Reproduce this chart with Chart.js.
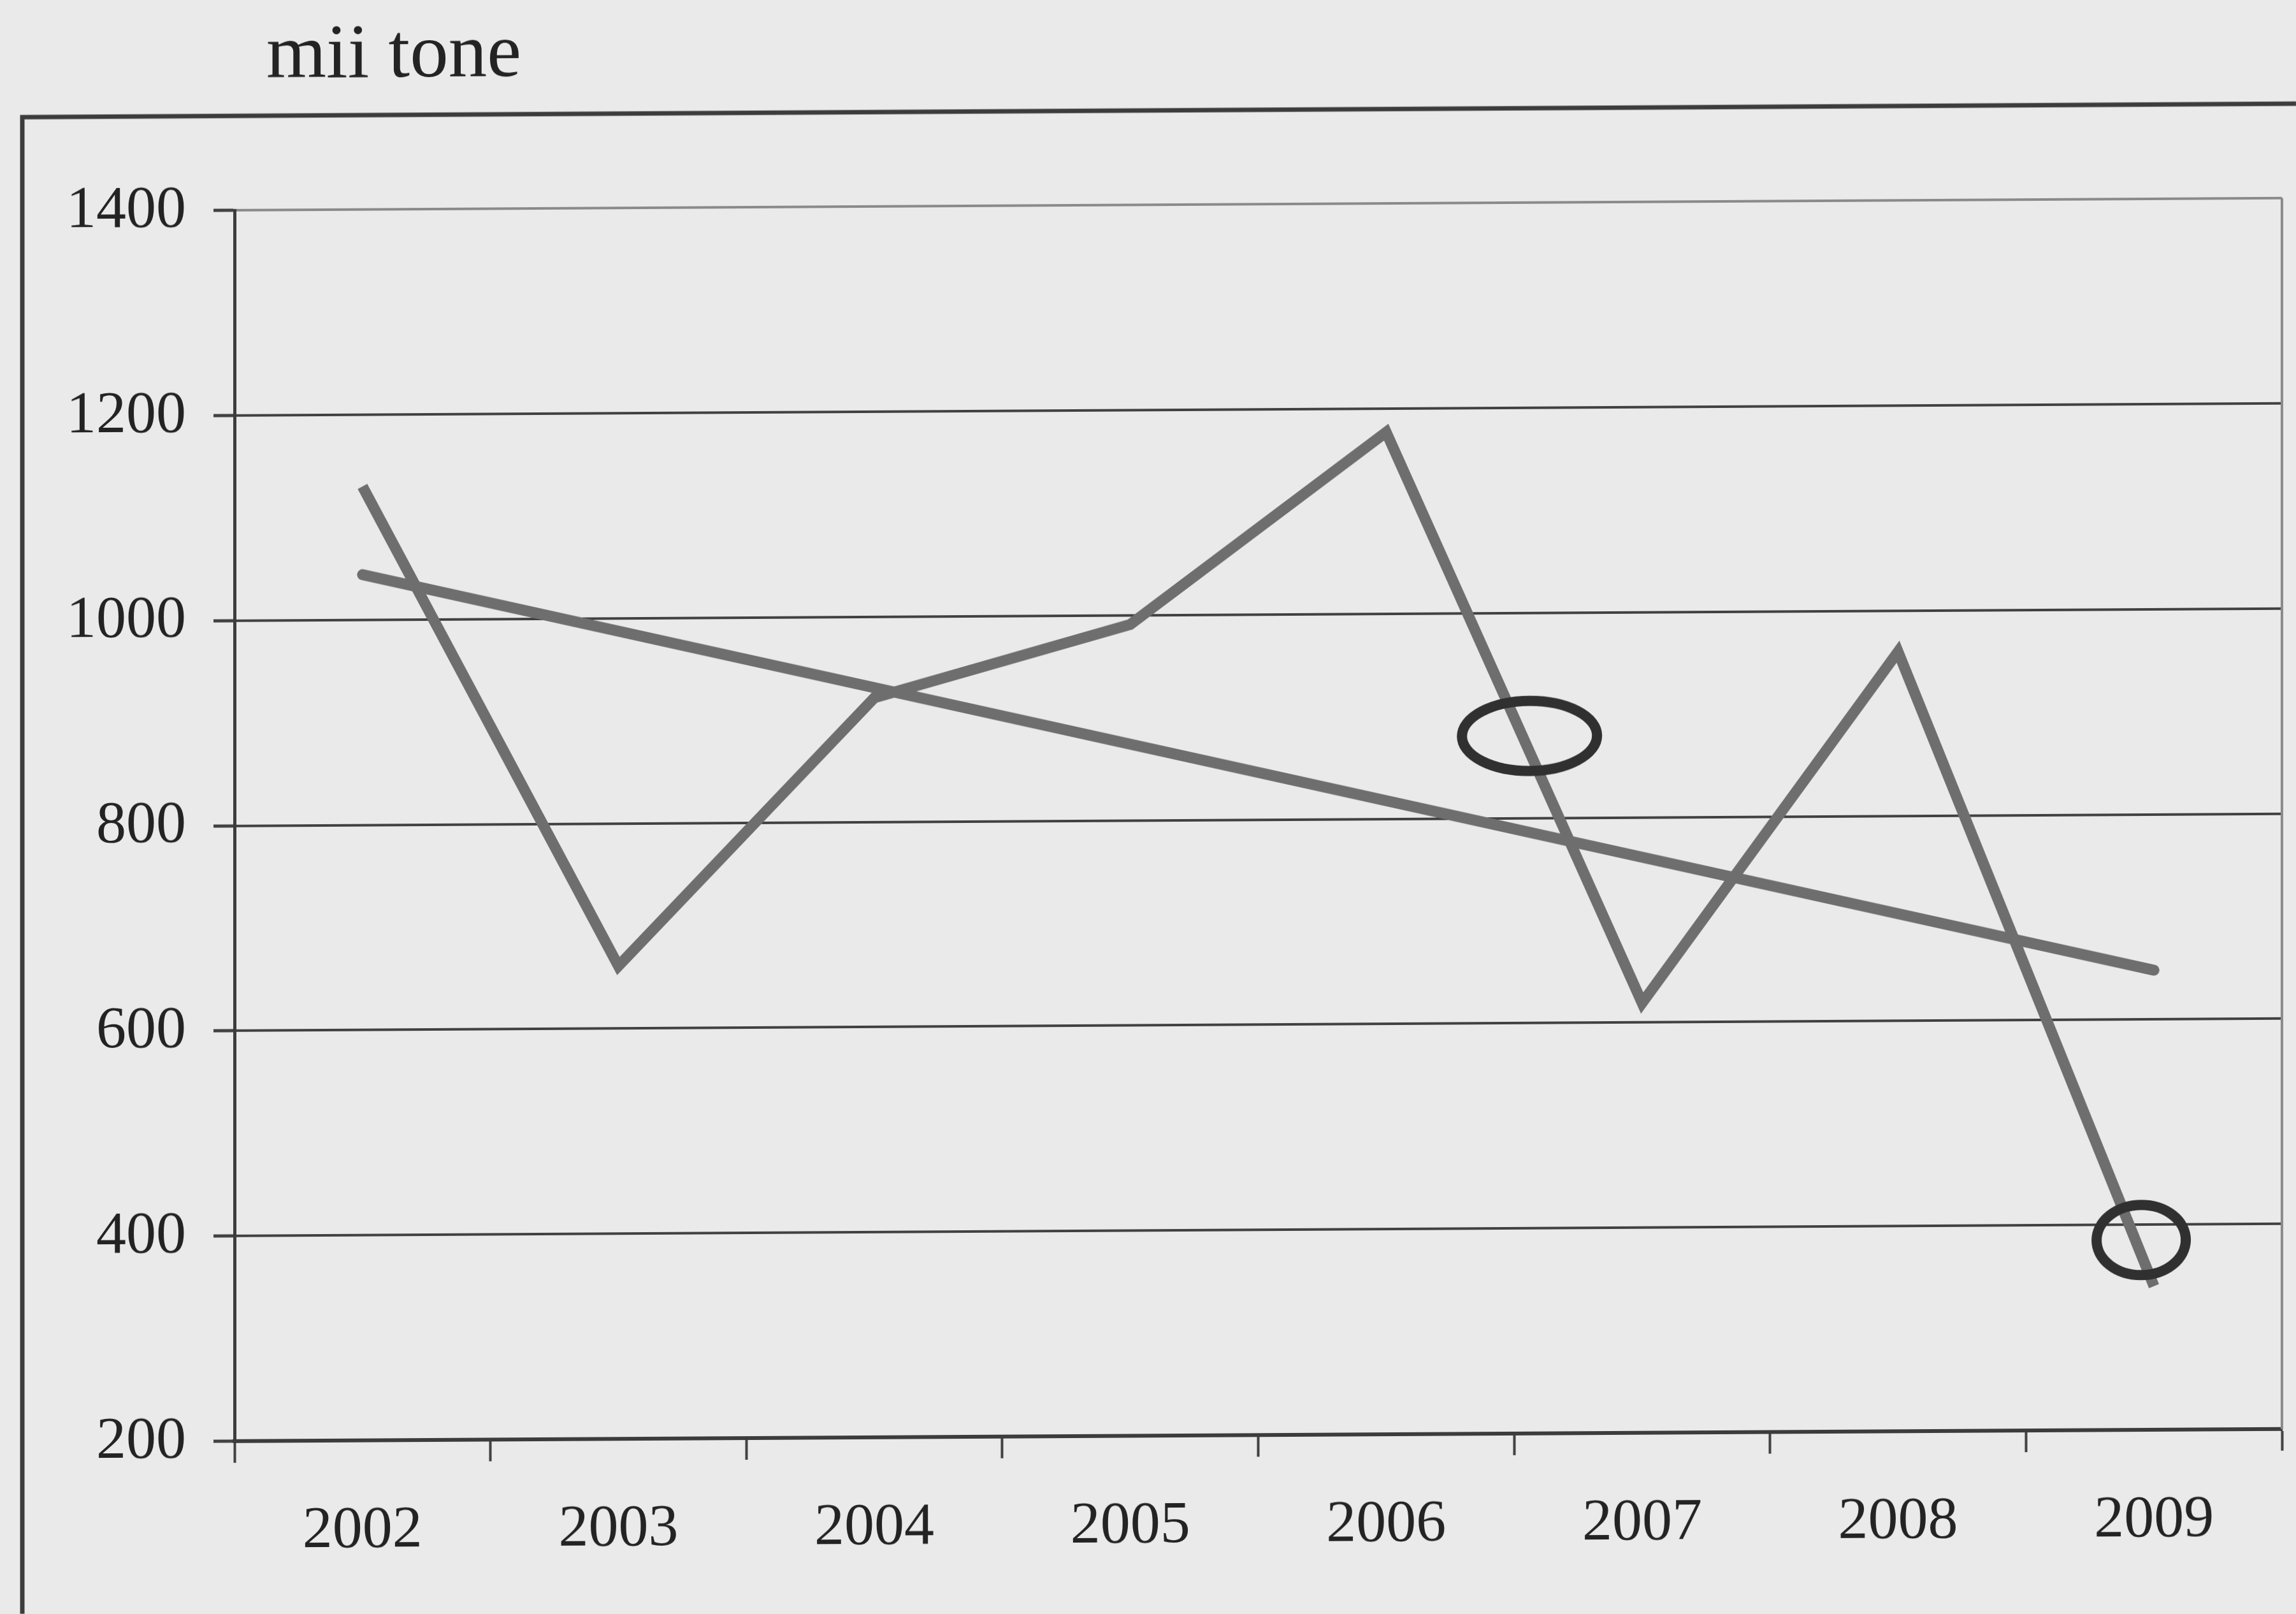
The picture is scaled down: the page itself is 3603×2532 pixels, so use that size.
<!DOCTYPE html>
<html>
<head>
<meta charset="utf-8">
<script src="https://cdn.jsdelivr.net/npm/chart.js@4.4.1/dist/chart.umd.min.js"></script>
<style>
  html, body { margin: 0; padding: 0; background: #eaeaea; overflow: hidden; }
  #wrap {
    position: absolute; left: 0; top: 0; width: 3603px; height: 2532px;
    transform: skewY(-0.34deg); transform-origin: 0 0;
  }
  canvas { display: block; }
</style>
</head>
<body>
<div id="wrap"><canvas id="c" width="3603" height="2532" style="width:3603px;height:2532px"></canvas></div>
<script>
// Annual production, thousand tonnes
const years = ['2002', '2003', '2004', '2005', '2006', '2007', '2008', '2009'];
const production = [1130, 661, 921, 991, 1177, 619, 960, 340];
// Linear trend: start and end values only, drawn as a straight segment
const trend = [1044, null, null, null, null, null, null, 648];
const yTicks = [200, 400, 600, 800, 1000, 1200, 1400];
const unitLabel = 'mii tone';
// Hand-drawn rings: position on the category axis (index) and value
const ringAt = [4.56, 6.95];
const ringValue = [880, 385];

const FONT = '"Liberation Serif", "Times New Roman", serif';
const INK = '#232323';
const GRID = '#414141';
const FAINT = '#8a8a8a';
const LINE = '#6e6e6e';

const pageDecor = {
  id: 'pageDecor',
  beforeDraw(chart) {
    const ctx = chart.ctx;
    ctx.save();
    // outer frame (its right and bottom sides run past the page)
    ctx.strokeStyle = '#3c3c3c';
    ctx.lineWidth = 7;
    ctx.strokeRect(35, 184, 3700, 2600);
    // unit label above the value axis
    ctx.fillStyle = INK;
    ctx.font = '121px ' + FONT;
    ctx.textBaseline = 'alphabetic';
    ctx.textAlign = 'left';
    ctx.fillText(unitLabel, 418, 124);
    ctx.restore();
  },
  beforeDatasetsDraw(chart) {
    const { ctx, chartArea } = chart;
    ctx.save();
    ctx.strokeStyle = FAINT;
    ctx.lineWidth = 4;
    ctx.beginPath();
    ctx.moveTo(chartArea.right, chartArea.top);
    ctx.lineTo(chartArea.right, chartArea.bottom);
    ctx.stroke();
    ctx.restore();
  },
  afterDatasetsDraw(chart) {
    const { ctx, scales } = chart;
    const sizes = [[106, 55], [70, 55]];
    ctx.save();
    ctx.strokeStyle = '#303030';
    ctx.lineWidth = 16;
    ringAt.forEach((at, i) => {
      const cx = scales.x.getPixelForValue(at);
      const cy = scales.y.getPixelForValue(ringValue[i]);
      ctx.beginPath();
      ctx.ellipse(cx, cy, sizes[i][0], sizes[i][1], 0, 0, Math.PI * 2);
      ctx.stroke();
    });
    ctx.restore();
  }
};

function build() {
  new Chart(document.getElementById('c'), {
    type: 'line',
    data: {
      labels: years,
      datasets: [
        {
          data: production,
          borderColor: LINE,
          borderWidth: 17,
          pointRadius: 0,
          tension: 0,
          borderJoinStyle: 'miter',
          borderCapStyle: 'butt'
        },
        {
          data: trend,
          spanGaps: true,
          borderColor: LINE,
          borderWidth: 17,
          pointRadius: 0,
          tension: 0,
          borderCapStyle: 'round'
        }
      ]
    },
    options: {
      responsive: false,
      animation: false,
      devicePixelRatio: 1,
      layout: { padding: { top: 332, right: 22, bottom: 0, left: 0 } },
      plugins: { legend: { display: false }, tooltip: { enabled: false }, title: { display: false } },
      scales: {
        x: {
          offset: true,
          afterFit: s => { s.height = 269; },
          grid: {
            offset: true,
            drawOnChartArea: false,
            drawTicks: true,
            tickLength: 34,
            tickColor: GRID,
            tickWidth: 4
          },
          border: { display: true, color: '#3c3c3c', width: 6 },
          ticks: { color: INK, font: { family: FONT, size: 94 }, padding: 52, maxRotation: 0 }
        },
        y: {
          min: 200,
          max: 1400,
          afterFit: s => { s.width = 368; },
          afterBuildTicks: s => { s.ticks = yTicks.map(v => ({ value: v })); },
          grid: {
            color: c => (c.tick && c.tick.value === 1400 ? FAINT : GRID),
            lineWidth: 4,
            drawTicks: true,
            tickLength: 33,
            tickColor: GRID,
            tickWidth: 5
          },
          border: { display: true, color: '#3c3c3c', width: 5 },
          ticks: {
            color: INK,
            font: { family: FONT, size: 94 },
            padding: 43,
            callback: v => String(v)
          }
        }
      }
    },
    plugins: [pageDecor]
  });
}

if (document.fonts && document.fonts.load) {
  document.fonts.load('94px "Liberation Serif"').then(build, build);
} else {
  build();
}
</script>
</body>
</html>
